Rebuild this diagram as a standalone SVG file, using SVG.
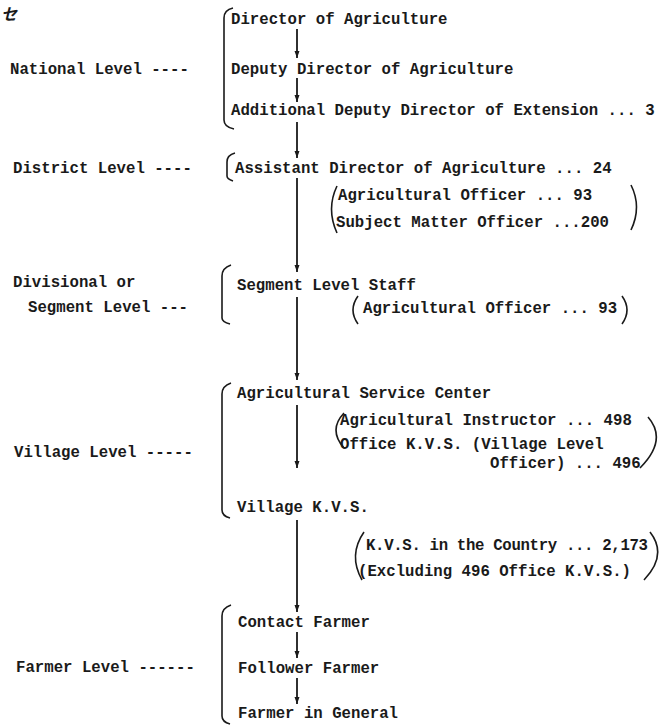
<svg xmlns="http://www.w3.org/2000/svg" width="663" height="726" viewBox="0 0 663 726">
<style>
text{font-family:"Liberation Mono","DejaVu Sans Mono",monospace;font-size:15.7px;font-weight:bold;fill:#1a1a1a}
.br{fill:none;stroke:#1a1a1a;stroke-width:1.6}
.ar{fill:none;stroke:#1a1a1a;stroke-width:1.8;marker-end:url(#ah)}
.cj{font-family:"Noto Sans CJK JP",sans-serif;font-size:16px;font-style:italic}
</style>
<defs>
<marker id="ah" markerWidth="8" markerHeight="6" refX="7" refY="2.5" orient="auto" markerUnits="userSpaceOnUse">
<path d="M0,0 L7,2.5 L0,5 Z" fill="#1a1a1a"/>
</marker>
</defs>
<text class="cj" x="1" y="20">セ</text>
<g id="levels">
<text x="10" y="74">National Level ----</text>
<text x="13" y="173">District Level ----</text>
<text x="13" y="287">Divisional or</text>
<text x="28" y="312">Segment Level ---</text>
<text x="14" y="457">Village Level -----</text>
<text x="16" y="672">Farmer Level ------</text>
</g>
<g id="national">
<path class="br" d="M233,8 Q224,10 224,18 L224,120 Q224,127 234,129"/>
<text x="231" y="24">Director of Agriculture</text>
<text x="231" y="74">Deputy Director of Agriculture</text>
<text x="231" y="115">Additional Deputy Director of Extension ... 3</text>
</g>
<g id="district">
<path class="br" d="M235,153 Q227,155 227,162 L227,176 Q227,179 233,181"/>
<text x="235" y="173">Assistant Director of Agriculture ... 24</text>
<path class="br" d="M337,186 Q326,209 337,233"/>
<path class="br" d="M631,185 Q642,207 631,230"/>
<text x="338" y="200">Agricultural Officer ... 93</text>
<text x="336" y="227">Subject Matter Officer ...200</text>
</g>
<g id="segment">
<path class="br" d="M231,265 Q222,268 222,276 L222,318 Q222,322 230,324"/>
<text x="237" y="290">Segment Level Staff</text>
<path class="br" d="M358,296 Q348,310 358,324"/>
<path class="br" d="M622,296 Q632,310 622,324"/>
<text x="363" y="313">Agricultural Officer ... 93</text>
</g>
<g id="village">
<path class="br" d="M231,383 Q222,386 222,394 L222,510 Q222,516 230,518"/>
<text x="237" y="398">Agricultural Service Center</text>
<path class="br" d="M344,413 Q328,430 344,448"/>
<path class="br" d="M648,417 Q668,440 640,468"/>
<text x="340" y="425">Agricultural Instructor ... 498</text>
<text x="340" y="449">Office K.V.S. (Village Level</text>
<text x="490" y="468">Officer) ... 496</text>
<text x="237" y="512">Village K.V.S.</text>
<path class="br" d="M364,532 Q348,555 362,580"/>
<path class="br" d="M650,532 Q668,555 644,580"/>
<text x="366" y="550" textLength="282" lengthAdjust="spacing">K.V.S. in the Country ... 2,173</text>
<text x="358" y="576">(Excluding 496 Office K.V.S.)</text>
</g>
<g id="farmer">
<path class="br" d="M231,605 Q222,608 222,616 L222,716 Q222,722 230,724"/>
<text x="238" y="627">Contact Farmer</text>
<text x="238" y="673">Follower Farmer</text>
<text x="238" y="718">Farmer in General</text>
</g>
<g id="connectors">
<line class="ar" x1="297" y1="29" x2="297" y2="58"/>
<line class="ar" x1="297" y1="78" x2="297" y2="102"/>
<line class="ar" x1="297" y1="122" x2="297" y2="158"/>
<line class="ar" x1="297" y1="178" x2="297" y2="272"/>
<line class="ar" x1="297" y1="297" x2="297" y2="380"/>
<line class="ar" x1="297" y1="405" x2="297" y2="468"/>
<line class="ar" x1="297" y1="520" x2="297" y2="612"/>
<line class="ar" x1="297" y1="632" x2="297" y2="658"/>
<line class="ar" x1="297" y1="678" x2="297" y2="704"/>
</g>
</svg>
